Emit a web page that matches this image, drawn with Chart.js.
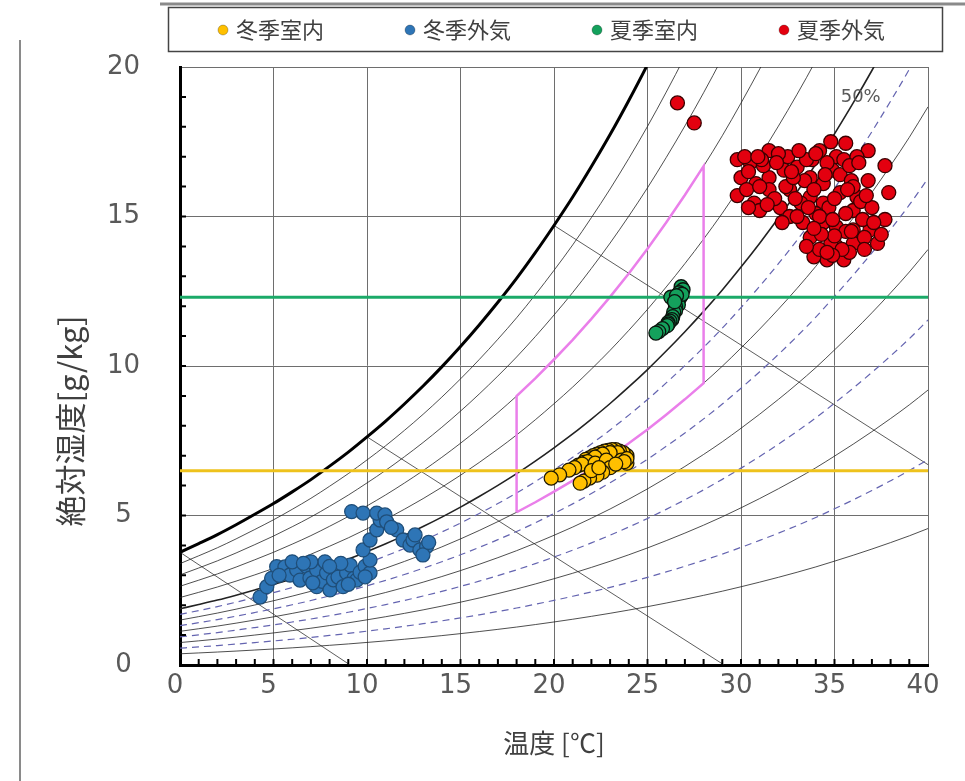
<!DOCTYPE html>
<html>
<head>
<meta charset="utf-8">
<script src="https://cdn.jsdelivr.net/npm/chart.js@4.4.0/dist/chart.umd.min.js"></script>
<style>
  html, body { margin: 0; padding: 0; background: #fff; }
</style>
</head>
<body>
<canvas id="myChart" width="965" height="781"></canvas>
<script>
// series names (legend order)
var seriesNames = ['冬季室内', '冬季外気', '夏季室内', '夏季外気'];
var seriesFill = ['#FFC000', '#2E75B6', '#14A15C', '#E3000F'];
var seriesEdge = ['#1e1800', '#1F4E79', '#0b140d', '#3a0000'];

// 冬季室内
var winterInT = [23.9, 23.7, 23.5, 23.3, 23.1, 22.9, 22.7, 22.5, 22.3, 22.1, 21.9, 21.7, 23.8, 23.6, 23.2, 22.8, 22.4, 22.0, 21.6, 21.3, 23.9,
                 23.4, 23.0, 22.6, 22.2, 21.8, 21.5, 22.2, 22.8, 23.6, 23.9, 23.75,
                 23.0, 23.3, 22.6, 22.3, 21.9, 21.6, 21.4, 22.0, 22.4, 21.1, 20.8, 20.3, 19.85];
var winterInW = [7.0, 7.1, 7.15, 7.2, 7.2, 7.18, 7.15, 7.1, 7.05, 7.0, 6.93, 6.88, 6.85, 6.95, 7.05, 7.0, 6.95, 6.85, 6.78, 6.68, 6.75,
                 7.1, 7.1, 7.05, 6.95, 6.8, 6.72, 6.75, 6.85, 6.85, 6.9, 6.8,
                 6.6, 6.72, 6.45, 6.35, 6.25, 6.15, 6.08, 6.5, 6.6, 6.6, 6.52, 6.36, 6.25];

// 冬季外気
var winterOutT = [4.28, 4.64, 4.9, 5.17, 5.61, 5.88, 6.24, 6.42, 6.78, 6.95, 7.31, 7.31, 7.6, 7.84, 7.75, 8.02, 8.2, 8.38, 8.45, 8.72,
                  8.91, 9.1, 9.3, 9.45, 9.63, 9.9, 10.16, 10.16, 9.79, 10.16, 10.52, 10.7, 9.18, 9.79, 10.52, 10.96, 11.05, 11.59,
                  11.93, 12.3, 12.46, 12.57, 12.83, 13.19, 12.99, 13.3, 11.3, 6.0, 8.6, 5.3, 7.0, 9.9, 6.6, 7.1, 8.0, 9.0];
var winterOutW = [2.27, 2.62, 2.9, 3.29, 3.28, 3.01, 3.18, 2.84, 3.29, 2.91, 3.18, 2.62, 2.8, 3.08, 3.45, 2.51, 2.85, 3.18, 2.94, 2.62,
                  3.08, 3.34, 2.9, 2.84, 3.1, 3.3, 3.08, 3.51, 3.85, 4.18, 4.52, 4.85, 5.13, 5.08, 5.08, 5.02, 4.79, 4.52,
                  4.18, 4.01, 4.18, 4.35, 3.85, 3.96, 3.68, 4.1, 4.6, 3.45, 3.4, 3.0, 3.45, 2.95, 3.4, 2.75, 3.3, 2.7];

// 夏季室内
var summerInT = [26.8, 26.9, 26.7, 26.75, 26.6, 26.65, 26.5, 26.5, 26.4, 26.35, 26.3, 26.2, 26.1, 26.25, 26.85, 26.55, 26.45,
                 26.1, 26.05, 25.8, 25.6, 25.45];
var summerInW = [12.65, 12.55, 12.45, 12.3, 12.2, 12.05, 12.0, 11.85, 11.8, 11.65, 11.55, 11.5, 11.45, 12.3, 12.4, 12.35, 12.15,
                 11.4, 11.35, 11.25, 11.15, 11.1];

// 夏季外気
var summerOutT = [26.6, 27.5, 29.8, 30.5, 31.5, 32.5, 33.8, 34.8, 35.6, 36.8, 37.7, 37.9, 37.7, 37.3, 36.9, 34.6, 33.9, 35.5, 29.8, 30.0,
                  30.7, 31.0, 32.1, 32.6, 33.3, 33.7, 34.4, 35.1, 36.0, 36.2, 35.3, 34.4, 33.7, 33.0, 32.3, 31.5, 30.8, 31.5,
                  32.6, 33.7, 34.4, 35.1, 36.0, 36.0, 34.8, 35.1, 34.9, 35.3, 33.2, 32.4, 35.6, 36.5, 34.2, 35.8, 34.0, 33.0,
                  31.8, 30.3, 31.2, 32.0, 33.4, 34.6, 35.9, 36.6, 35.4, 34.9, 33.5, 34.7, 35.5, 34.2, 36.2, 31.1, 30.2, 32.8,
                  33.9, 35.0, 36.4, 37.0, 36.8,
                  30.4, 31.0, 31.9, 32.7, 33.5, 34.0, 34.5, 35.8, 36.3, 32.9, 33.6, 34.2, 34.9, 35.6, 35.0, 34.3, 33.9, 36.6,
                  37.5, 37.1, 36.7, 31.4, 32.2, 30.4, 30.9, 33.1, 36.0, 35.7, 34.6, 35.9];
var summerOutW = [18.8, 18.13, 16.9, 16.8, 17.2, 17.0, 16.9, 17.5, 17.45, 17.2, 16.7, 15.8, 14.9, 14.1, 14.55, 13.55, 13.65, 13.55, 15.7, 16.3,
                  15.45, 15.2, 15.3, 15.0, 14.8, 14.3, 14.8, 14.65, 15.2, 15.65, 15.8, 16.1, 16.3, 16.65, 16.55, 16.3, 16.1, 15.9,
                  15.9, 15.65, 15.45, 14.0, 14.1, 14.55, 14.1, 17.0, 16.55, 16.4, 15.45, 16.0, 15.1, 14.9, 13.9, 13.8, 15.1, 15.0,
                  15.6, 15.9, 16.7, 17.1, 16.2, 16.8, 16.2, 14.3, 13.9, 13.7, 14.0, 15.3, 16.9, 17.2, 17.0, 16.9, 17.0, 16.3,
                  15.9, 15.6, 15.5, 15.3, 16.2,
                  16.5, 16.0, 16.8, 16.5, 16.9, 17.1, 16.4, 16.7, 16.8, 15.6, 15.3, 15.0, 14.9, 14.5, 14.35, 14.4, 14.6, 13.9,
                  14.4, 14.8, 15.7, 15.4, 14.8, 15.3, 17.0, 17.2, 16.0, 15.9, 13.8, 14.5];

// horizontal reference levels [g/kg]
var levelT = [0, 40];
var winterInLevel = 6.5;
var summerInLevel = 12.3;

// saturation absolute humidity [g/kg] at 0..40 C (thick 100% curve)
var satTemp = [0, 1, 2, 3, 4, 5, 6, 7, 8, 9, 10, 11, 12, 13, 14, 15, 16, 17, 18, 19, 20,
               21, 22, 23, 24, 25, 26, 27, 28, 29, 30, 31, 32, 33, 34, 35, 36, 37, 38, 39, 40];
var satHumidity = [3.77, 4.06, 4.36, 4.69, 5.04, 5.40, 5.79, 6.20, 6.65, 7.12, 7.63, 8.16, 8.73, 9.33, 9.97, 10.65,
                   11.37, 12.13, 12.93, 13.79, 14.70, 15.65, 16.67, 17.74, 18.88, 20.08, 21.36, 22.70, 24.11, 25.60,
                   27.20, 28.87, 30.63, 32.48, 34.44, 36.57, 38.77, 41.08, 43.52, 46.08, 48.87];
var rhSolid = [10, 20, 30, 40, 50, 60, 70, 80, 90];
var rhDashed = [15, 25, 35, 45];

// enthalpy guide lines (start / end)
var enthT0 = [0, 10, 20];
var enthW0 = [3.77, 7.63, 14.7];
var enthT1 = [9.1, 29.1, 40];
var enthW1 = [0, 0, 6.7];

// comfort zone
var comfortT = [18, 28];
var comfortRH = [40, 70];

var P = 101.325;
function rhCurve(rh) {
  var pts = [];
  for (var i = 0; i < satTemp.length; i++) {
    var es = P * satHumidity[i] / (622 + satHumidity[i]);
    var e = es * rh / 100;
    pts.push({x: satTemp[i], y: 622 * e / (P - e)});
  }
  return pts;
}

function comfortZone() {
  var lo = rhCurve(comfortRH[0]), hi = rhCurve(comfortRH[1]);
  var i0 = satTemp.indexOf(comfortT[0]), i1 = satTemp.indexOf(comfortT[1]);
  var pts = [lo[i0]];
  for (var i = i0; i <= i1; i++) pts.push(hi[i]);
  for (var j = i1; j >= i0; j--) pts.push(lo[j]);
  return pts;
}

function pairs(xs, ys) {
  return xs.map(function (v, i) { return {x: v, y: ys[i]}; });
}

// legend marker: circle at the right end of a wide box
var MARK_W = 78;
function makeMarker(color) {
  var c = document.createElement('canvas');
  c.width = MARK_W + 10; c.height = 14;
  var g = c.getContext('2d');
  g.fillStyle = color;
  g.strokeStyle = 'rgba(0,0,0,0.25)';
  g.lineWidth = 1;
  g.beginPath();
  g.arc(MARK_W + 3, 7, 5, 0, Math.PI * 2);
  g.fill();
  g.stroke();
  return c;
}
var markers = seriesFill.map(makeMarker);

function pointSet(i, xs, ys) {
  return {
    label: seriesNames[i],
    data: pairs(xs, ys),
    backgroundColor: seriesFill[i],
    borderColor: seriesEdge[i],
    borderWidth: 1.3,
    pointRadius: 7,
    showLine: false
  };
}

function lineSet(data, color, width, dash, curved) {
  return {
    data: data,
    showLine: true,
    borderColor: color,
    borderWidth: width,
    borderDash: dash || [],
    pointRadius: 0,
    fill: false,
    cubicInterpolationMode: curved ? 'monotone' : 'default',
    tension: 0
  };
}

var datasets = [
  pointSet(0, winterInT, winterInW),
  pointSet(1, winterOutT, winterOutW),
  pointSet(2, summerInT, summerInW),
  pointSet(3, summerOutT, summerOutW),
  lineSet(levelT.map(function (t) { return {x: t, y: winterInLevel}; }), '#EEC21C', 3),
  lineSet(levelT.map(function (t) { return {x: t, y: summerInLevel}; }), '#1BAA68', 3),
  lineSet(comfortZone(), '#EA7FEA', 2.5),
  lineSet(pairs(satTemp, satHumidity), '#000', 3, null, true)
];
rhSolid.forEach(function (rh) {
  datasets.push(lineSet(rhCurve(rh), '#222', rh === 50 ? 1.6 : 0.8, null, true));
});
rhDashed.forEach(function (rh) {
  datasets.push(lineSet(rhCurve(rh), '#6464b0', 1.2, [7, 5], true));
});
enthT0.forEach(function (t, i) {
  datasets.push(lineSet([{x: t, y: enthW0[i]}, {x: enthT1[i], y: enthW1[i]}], '#333', 0.8));
});

var overlay = {
  id: 'overlay',
  afterDraw: function (chart) {
    var ctx = chart.ctx, xs = chart.scales.x, ys = chart.scales.y, a = chart.chartArea;
    ctx.save();
    // minor ticks, inward
    ctx.strokeStyle = '#000';
    ctx.lineWidth = 2;
    ctx.beginPath();
    for (var t = 1; t < 40; t++) {
      var px = xs.getPixelForValue(t);
      ctx.moveTo(px, a.bottom); ctx.lineTo(px, a.bottom - 6);
    }
    for (var w = 1; w < 20; w++) {
      var py = ys.getPixelForValue(w);
      ctx.moveTo(a.left, py); ctx.lineTo(a.left + 6, py);
    }
    ctx.stroke();

    // 50% label
    ctx.fillStyle = '#595959';
    ctx.font = '18px "DejaVu Sans"';
    ctx.textAlign = 'center';
    ctx.textBaseline = 'middle';
    ctx.fillText('50%', xs.getPixelForValue(36.4), ys.getPixelForValue(19.0));

    // y axis title
    ctx.fillStyle = '#404040';
    ctx.font = '31px "Noto Sans CJK JP"';
    ctx.translate(70, 421);
    ctx.rotate(-Math.PI / 2);
    ctx.fillText('絶対湿度[g/kg]', 0, 0);
    ctx.restore();

    // legend frame and outer edge
    ctx.save();
    ctx.strokeStyle = '#444';
    ctx.lineWidth = 1.5;
    ctx.strokeRect(168.5, 7.5, 774, 44);
    ctx.strokeStyle = '#8a8a8a';
    ctx.lineWidth = 3;
    ctx.beginPath();
    ctx.moveTo(160, 4); ctx.lineTo(965, 4);
    ctx.stroke();
    ctx.lineWidth = 2;
    ctx.beginPath();
    ctx.moveTo(20, 40); ctx.lineTo(20, 781);
    ctx.stroke();
    ctx.restore();
  }
};

new Chart(document.getElementById('myChart'), {
  type: 'scatter',
  data: { datasets: datasets },
  plugins: [overlay],
  options: {
    responsive: false,
    animation: false,
    devicePixelRatio: 1,
    layout: { padding: { top: 9, left: 104, right: 37, bottom: 16 } },
    plugins: {
      tooltip: { enabled: false },
      legend: {
        position: 'top',
        align: 'center',
        labels: {
          usePointStyle: true,
          pointStyleWidth: MARK_W,
          padding: 10,
          color: '#404040',
          font: { family: '"Noto Sans CJK JP"', size: 22 },
          generateLabels: function () {
            return seriesNames.map(function (name, i) {
              return {
                text: name, datasetIndex: i, pointStyle: markers[i],
                fillStyle: seriesFill[i], strokeStyle: seriesFill[i],
                lineWidth: 0, hidden: false, fontColor: '#404040'
              };
            });
          }
        }
      }
    },
    scales: {
      x: {
        type: 'linear',
        min: 0, max: 40,
        ticks: {
          stepSize: 5, padding: 6, labelOffset: -5, color: '#595959',
          font: { family: '"DejaVu Sans"', size: 26 }
        },
        grid: { color: '#6e6e6e', lineWidth: 1, drawTicks: false },
        border: { color: '#000', width: 3 },
        title: {
          display: true, text: '温度 [℃]', color: '#404040',
          font: { family: '"Noto Sans CJK JP"', size: 26 },
          padding: { top: 0, bottom: 6 }
        },
        afterFit: function (scale) { scale.height = 100; }
      },
      // empty strip between legend and plot
      gap: {
        type: 'linear',
        axis: 'x',
        position: 'top',
        min: 0, max: 40,
        grid: { display: false, drawTicks: false },
        ticks: { display: false },
        border: { display: false },
        afterFit: function (scale) { scale.height = 16; }
      },
      y: {
        type: 'linear',
        min: 0, max: 20,
        ticks: {
          stepSize: 5, padding: 40, crossAlign: 'center', color: '#595959',
          font: { family: '"DejaVu Sans"', size: 26 }
        },
        grid: { color: '#6e6e6e', lineWidth: 1, drawTicks: false },
        border: { color: '#000', width: 3 },
        afterFit: function (scale) { scale.width = 76; }
      }
    }
  }
});
</script>
</body>
</html>
